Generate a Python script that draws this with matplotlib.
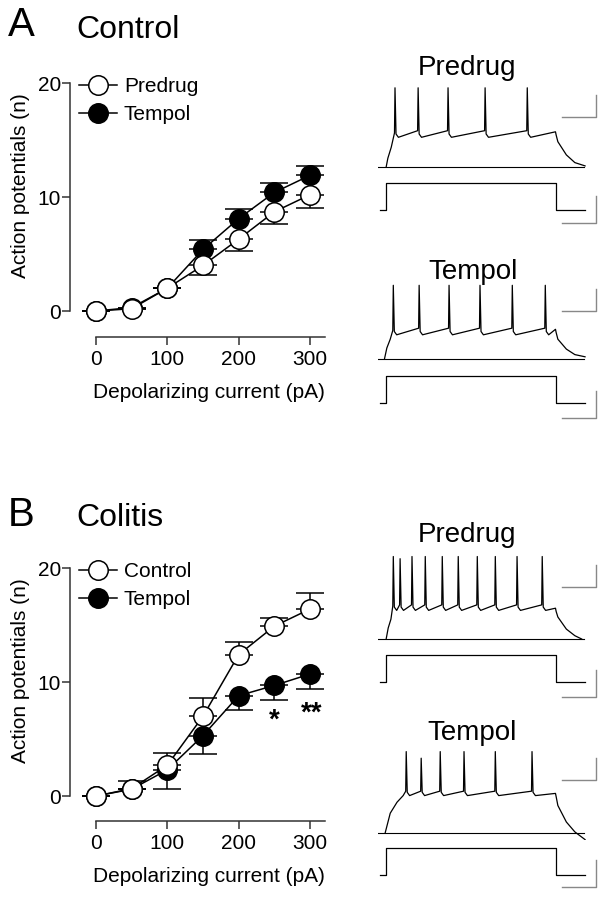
import numpy as np
import matplotlib
matplotlib.use("Agg")
import matplotlib.pyplot as plt

plt.rcParams['font.family'] = ['Liberation Sans', 'DejaVu Sans']

# ---- data ----
current = [0, 50, 100, 150, 200, 250, 300]

# A: control animals
ctrl_predrug = [0, 0.2, 2.0, 4.0, 6.3, 8.7, 10.2]
ctrl_predrug_err = [0, 0, 0, 0.8, 1.0, 1.1, 1.2]
ctrl_tempol = [0, 0.3, 2.0, 5.4, 8.1, 10.4, 11.9]
ctrl_tempol_err = [0, 0, 0, 0.8, 0.85, 0.8, 0.85]

# B: colitis animals
col_control = [0, 0.65, 2.7, 7.0, 12.4, 14.9, 16.4]
col_control_err = [0, 0.65, 1.1, 1.6, 1.1, 0.7, 1.45]
col_tempol = [0, 0.6, 2.3, 5.3, 8.8, 9.7, 10.7]
col_tempol_err = [0, 0, 1.7, 1.65, 1.25, 1.25, 1.3]
star_x = [250, 302]
star_y = [6.6, 7.2]
star_txt = ['*', '**']

# example traces: spike times (ms from pulse onset), levels in mV
spikes_a_pre = [26, 94, 182, 291, 415]
spikes_a_tem = [21, 97, 185, 276, 371, 468]
spikes_b_pre = [21, 41, 76, 115, 165, 212, 268, 321, 385, 459]
spikes_b_tem = [59, 103, 159, 229, 321, 429]
peaks_a_pre = [12, 12, 12, 12, 12]
peaks_a_tem = [7, 7, 7, 7, 7, 7]
peaks_b_pre = [15, 13, 15, 15, 15, 15, 15, 15, 15, 15]
peaks_b_tem = [14, 8, 14, 14, 14, 14]
# (threshold, after-hyperpolarisation, level at pulse end)
levels_a_pre = (-27, -33, -28)
levels_a_tem = (-32, -38, -33)
levels_b_pre = (-29, -34, -32)
levels_b_tem = (-22, -26, -24)
# onset rise and offset decay vertices (t, mV)
rise_a_pre = [(0, -60), (5, -52), (15, -42)]
rise_a_tem = [(-5, -60), (2, -50), (12, -42)]
rise_b_pre = [(0, -60), (6, -50), (14, -42)]
rise_b_tem = [(-3, -60), (12, -42), (32, -32), (50, -26)]
decay_a_pre = [(505, -37), (530, -49), (555, -56), (585, -59)]
decay_a_tem = [(505, -42), (530, -51), (555, -56), (585, -58)]
decay_b_pre = [(505, -40), (530, -51), (555, -57), (575, -60)]
decay_b_tem = [(505, -35), (530, -50), (555, -59), (585, -66)]
pulse_pA = 300
rest_mV = -60

W, H = 604, 897
fig = plt.figure(figsize=(W / 100, H / 100), dpi=100)


def box(l, t, r, b):
    return [l / W, 1 - b / H, (r - l) / W, (b - t) / H]


axis_col = '#333333'


def setup_plot(ax, ymin):
    ax.set_xlim(-36.4, 321)
    ax.set_ylim(ymin, 20)
    for s in ['top', 'right']:
        ax.spines[s].set_visible(False)
    for s in ['left', 'bottom']:
        ax.spines[s].set_color(axis_col)
        ax.spines[s].set_linewidth(1.1)
    ax.spines['left'].set_bounds(0, 20)
    ax.spines['bottom'].set_bounds(0, 321)
    ax.set_xticks([0, 100, 200, 300])
    ax.set_yticks([0, 10, 20])
    ax.tick_params(length=5.5, width=1.1, color=axis_col, labelsize=15)
    ax.tick_params(axis='y', pad=1)
    ax.tick_params(axis='x', pad=4)
    ax.set_xlabel('Depolarizing current (pA)', fontsize=15, va='center')
    ax.xaxis.set_label_coords(0.545, -0.22)
    ax.set_ylabel('Action potentials (n)', fontsize=15, va='center',
                  ha='center')
    ax.yaxis.set_label_coords(-0.196, 0.595)
    ax.patch.set_alpha(0)


def series(ax, y, err, up, filled, label, z):
    yerr = [[0] * len(err), err] if up else [err, [0] * len(err)]
    ax.errorbar(current, y, yerr=yerr, fmt='none', ecolor='black',
                elinewidth=1.1, capsize=10, capthick=1.1, zorder=z)
    ax.plot(current, y, '-o', color='black', lw=1.1, ms=14,
            mfc='black' if filled else 'white', mec='black', mew=1.1,
            label=label, zorder=z + 1, clip_on=False)


def legend(ax, top_px, order):
    h, l = ax.get_legend_handles_labels()
    idx = [l.index(o) for o in order]
    ax.legend([h[i] for i in idx], [l[i] for i in idx], loc='upper left',
              bbox_to_anchor=(79 / W, 1 - top_px / H),
              bbox_transform=fig.transFigure, frameon=False, fontsize=15,
              handlelength=1.8, handletextpad=0.35, labelspacing=0.45,
              borderpad=0, borderaxespad=0)


# ---- panel A ----
axA = fig.add_axes(box(70, 83, 325, 337))
setup_plot(axA, -2.28)
series(axA, ctrl_tempol, ctrl_tempol_err, True, True, 'Tempol', 2)
series(axA, ctrl_predrug, ctrl_predrug_err, False, False, 'Predrug', 4)
legend(axA, 77, ['Predrug', 'Tempol'])

# ---- panel B ----
axB = fig.add_axes(box(70, 568, 325, 821))
setup_plot(axB, -2.19)
series(axB, col_tempol, col_tempol_err, False, True, 'Tempol', 2)
series(axB, col_control, col_control_err, True, False, 'Control', 4)
legend(axB, 562, ['Control', 'Tempol'])
for x, y, s in zip(star_x, star_y, star_txt):
    axB.text(x, y, s, ha='center', va='center', fontsize=20,
             fontweight='bold')

fig.text(8 / W, 1 - 25 / H, 'A', fontsize=29, va='center', ha='left')
fig.text(76 / W, 1 - 30 / H, 'Control', fontsize=23, va='center', ha='left')
fig.text(8 / W, 1 - 515 / H, 'B', fontsize=29, va='center', ha='left')
fig.text(76 / W, 1 - 518 / H, 'Colitis', fontsize=23, va='center', ha='left')


# ---- example traces ----
def voltage_vertices(spikes, peaks, levels, rise, decay):
    thr, ahp, end = levels
    t = [p[0] for p in rise]
    v = [p[1] for p in rise]
    for k, (s, pk) in enumerate(zip(spikes, peaks)):
        pre = ahp + 4 if k == 0 else thr
        t += [s - 1.5, s, s + 3, s + 10]
        v += [pre, pk, ahp + 3, ahp]
    t += [498, 500]
    v += [end, end - 3]
    t += [p[0] for p in decay]
    v += [p[1] for p in decay]
    return t, v


def trace_panel(title, title_xy, v_base, i_base, spikes, peaks, levels,
                rise, decay, vbar_bot, ibar_bot):
    sx = 0.34  # px per ms
    sv = 1.1   # px per mV
    si = 0.09  # px per pA
    # voltage
    axv = fig.add_axes(box(378, v_base - 95, 600, v_base + 7))
    axv.set_xlim(-24, 222 / sx - 24)
    axv.set_ylim(rest_mV - 7 / sv, rest_mV + 95 / sv)
    axv.axis('off')
    t, v = voltage_vertices(spikes, peaks, levels, rise, decay)
    axv.plot(t, v, color='black', lw=0.9)
    axv.plot([-24, 583], [rest_mV, rest_mV], color='black', lw=0.8)
    axv.plot([518, 618, 618], [vbar_bot, vbar_bot, vbar_bot + 20],
             color='#888888', lw=1.0)
    # current
    axi = fig.add_axes(box(378, i_base - 32, 600, i_base + 20))
    axi.set_xlim(-24, 222 / sx - 24)
    axi.set_ylim(-20 / si, 32 / si)
    axi.axis('off')
    axi.plot([-18, 0, 0, 500, 500, 585], [0, 0, pulse_pA, pulse_pA, 0, 0],
             color='black', lw=0.9)
    axi.plot([518, 618, 618], [ibar_bot, ibar_bot, ibar_bot + 300],
             color='#888888', lw=1.0)
    fig.text(title_xy[0] / W, 1 - title_xy[1] / H, title, fontsize=20,
             ha='center', va='center')


trace_panel('Predrug', (467, 68), 167, 210, spikes_a_pre, peaks_a_pre,
            levels_a_pre, rise_a_pre, decay_a_pre, -15, -145)
trace_panel('Tempol', (473, 272), 359, 403, spikes_a_tem, peaks_a_tem,
            levels_a_tem, rise_a_tem, decay_a_tem, -16, -165)
trace_panel('Predrug', (467, 535), 639, 682, spikes_b_pre, peaks_b_pre,
            levels_b_pre, rise_b_pre, decay_b_pre, -13, -165)
trace_panel('Tempol', (472, 733), 833, 875, spikes_b_tem, peaks_b_tem,
            levels_b_tem, rise_b_tem, decay_b_tem, -12, -135)

fig.savefig('out.png', dpi=100)
